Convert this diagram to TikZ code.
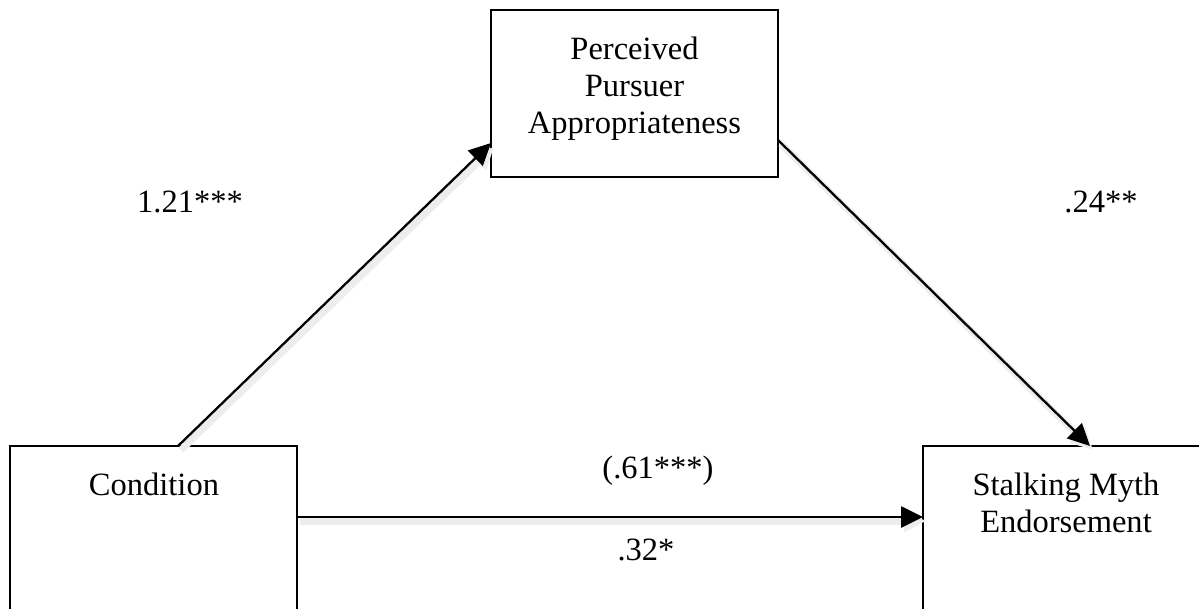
\documentclass[tikz,border=0pt]{standalone}
\usepackage{fontspec}
\setmainfont{Liberation Serif}
\usetikzlibrary{arrows.meta,calc}
\begin{document}
\begin{tikzpicture}[x=0.02cm,y=-0.02cm,
  box/.style={draw=black,line width=1.1pt,inner sep=0pt,outer sep=0pt,minimum width=5.74cm},
  lbl/.style={inner sep=0pt,anchor=base,font=\fontsize{18.5}{21}\selectfont},
  txt/.style={lbl,align=center},
  conn/.style={draw=black,line width=1.3pt,-{Triangle[length=12.5pt,width=12pt]},
    preaction={draw=black!7,line width=4pt,transform canvas={shift={(3,4)}}}}]
\useasboundingbox (0,0) rectangle (1199,608);
\clip (0,0) rectangle (1199,608);
\node[box,minimum height=3.34cm,anchor=north west] (tb) at (491,10) {};
\node[box,minimum height=3.9cm,anchor=north west] (cond) at (10,446) {};
\node[box,minimum height=3.9cm,anchor=north west] (smb) at (923,446) {};
\node[txt] (tcond) at (154,495) {Condition};
\node[txt] (ttb) at (634.5,133) {Perceived\\Pursuer\\Appropriateness};
\node[txt] (tsmb) at (1066,532) {Stalking Myth\\Endorsement};
\coordinate (a1s) at ($(cond.north west)+(168,0)$);
\coordinate (a1e) at ($(tb.north west)+(0,133)$);
\coordinate (a2s) at ($(tb.north east)+(0,130)$);
\coordinate (a2e) at ($(smb.north west)+(167,0)$);
\coordinate (a3s) at ($(cond.north east)+(0,71)$);
\coordinate (a3e) at ($(smb.north west)+(0,71)$);
\draw[conn] (a1s) -- (a1e);
\draw[conn] (a2s) -- (a2e);
\draw[conn] (a3s) -- (a3e);
\node[lbl] (l1) at (190,212) {1.21***};
\node[lbl] (l2) at (1101,212) {.24**};
\node[lbl] (l3) at (658,478) {(.61***)};
\node[lbl] (l4) at (646,560) {.32*};
\end{tikzpicture}
\end{document}
